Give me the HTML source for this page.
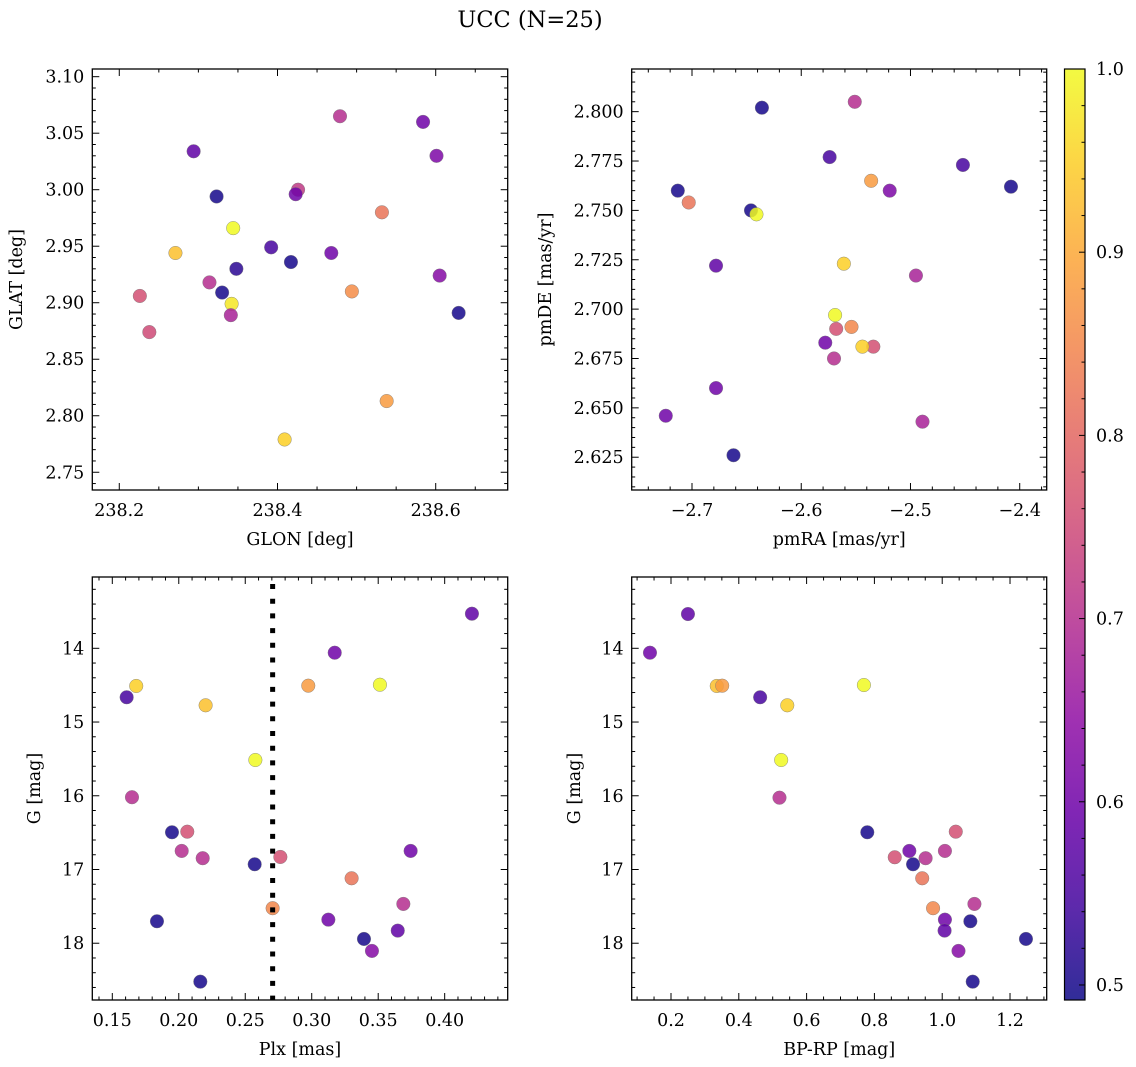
<!DOCTYPE html>
<html><head><meta charset="utf-8">
<style>
html,body{margin:0;padding:0;background:#fff;}
svg{display:block;font-family:"DejaVu Serif","Liberation Serif",serif;}
</style></head>
<body>
<svg id="fig" width="1136" height="1067" viewBox="0 0 1136 1067" xmlns="http://www.w3.org/2000/svg">
<rect width="1136" height="1067" fill="#fff"/>
<text x="530" y="27" font-size="22.5" text-anchor="middle">UCC (N=25)</text>
</svg>
<script>
// ---- data ----
const glon = [238.479,238.584,238.601,238.294,238.426,238.423,238.323,238.532,238.344,238.271,238.392,238.417,238.468,238.348,238.314,238.605,238.226,238.330,238.494,238.342,238.341,238.629,238.238,238.538,238.409];
const glat = [3.065,3.060,3.030,3.034,3.000,2.996,2.994,2.980,2.966,2.944,2.949,2.936,2.944,2.930,2.918,2.924,2.906,2.909,2.910,2.899,2.889,2.891,2.874,2.813,2.779];
const probA = [0.70,0.60,0.62,0.58,0.72,0.60,0.50,0.82,1.0,0.93,0.55,0.50,0.60,0.52,0.70,0.63,0.76,0.50,0.86,0.98,0.68,0.50,0.75,0.88,0.95];

const pmra = [-2.636,-2.551,-2.574,-2.452,-2.408,-2.713,-2.536,-2.519,-2.703,-2.646,-2.641,-2.678,-2.561,-2.495,-2.569,-2.568,-2.554,-2.578,-2.534,-2.544,-2.570,-2.678,-2.724,-2.489,-2.662];
const pmde = [2.802,2.805,2.777,2.773,2.762,2.760,2.765,2.760,2.754,2.750,2.748,2.722,2.723,2.717,2.697,2.690,2.691,2.683,2.681,2.681,2.675,2.660,2.646,2.643,2.626];
const probB = [0.50,0.70,0.55,0.55,0.50,0.50,0.88,0.62,0.82,0.50,1.0,0.58,0.95,0.68,1.0,0.76,0.85,0.60,0.76,0.95,0.70,0.60,0.60,0.68,0.50];

const plx = [0.4205,0.3173,0.168,0.1608,0.2202,0.2974,0.3513,0.2576,0.1648,0.1949,0.2064,0.2022,0.218,0.2571,0.2764,0.3744,0.330,0.2706,0.3689,0.1836,0.3125,0.3647,0.3393,0.3453,0.2162];
const gmagC = [13.531,14.060,14.511,14.664,14.773,14.507,14.494,15.515,16.020,16.495,16.487,16.748,16.847,16.929,16.830,16.748,17.119,17.525,17.467,17.702,17.680,17.829,17.942,18.104,18.521];
const probC = [0.58,0.60,0.95,0.55,0.93,0.88,1.0,1.0,0.70,0.50,0.76,0.70,0.70,0.50,0.76,0.60,0.82,0.85,0.70,0.50,0.60,0.58,0.50,0.63,0.50];
const plxLine = 0.2706;

const bprp = [0.250,0.138,0.335,0.351,0.463,0.543,0.769,0.525,0.520,0.779,1.040,0.903,1.008,0.860,0.951,0.914,0.941,1.095,0.973,1.008,1.083,1.007,1.247,1.048,1.090];
const gmagD = [13.535,14.060,14.511,14.507,14.664,14.773,14.498,15.515,16.026,16.495,16.487,16.748,16.748,16.834,16.847,16.929,17.119,17.467,17.525,17.680,17.702,17.829,17.942,18.104,18.521];
const probD = [0.58,0.60,0.93,0.88,0.55,0.95,1.0,1.0,0.70,0.50,0.76,0.60,0.70,0.76,0.70,0.50,0.82,0.70,0.85,0.60,0.50,0.58,0.50,0.63,0.50];

const ticksGlon = [238.2,238.4,238.6];
const ticksGlat = [3.10,3.05,3.00,2.95,2.90,2.85,2.80,2.75];
const ticksPmra = [-2.7,-2.6,-2.5,-2.4];
const ticksPmde = [2.800,2.775,2.750,2.725,2.700,2.675,2.650,2.625];
const ticksPlx = [0.15,0.20,0.25,0.30,0.35,0.40];
const ticksG = [14,15,16,17,18];
const ticksBprp = [0.2,0.4,0.6,0.8,1.0,1.2];
const ticksCbar = [0.5,0.6,0.7,0.8,0.9,1.0];

// ---- helpers ----
const NS = "http://www.w3.org/2000/svg";
const svg = document.getElementById('fig');
const FS = 17.5;
function mk(tag, attrs, parent){
  const e = document.createElementNS(NS, tag);
  for (const k in attrs) e.setAttribute(k, attrs[k]);
  (parent||svg).appendChild(e);
  return e;
}
const stops = [[13,8,135],[65,4,157],[106,0,168],[143,13,164],[177,42,144],[204,71,120],[225,100,98],[242,132,75],[252,166,54],[252,206,37],[240,249,33]];
const VMIN = 0.4918, VMAX = 1.0;
function plasmaT(t){
  t = Math.max(0, Math.min(1, t));
  const p = t*10, i = Math.min(9, Math.floor(p)), f = p - i;
  const a = stops[i], b = stops[i+1];
  return 'rgb(' + [0,1,2].map(k => Math.round(a[k] + (b[k]-a[k])*f)).join(',') + ')';
}
function plasma(v){ return plasmaT((v - VMIN)/(VMAX - VMIN)); }
function fmt(v, d){ return (v < 0 ? '\u2212' : '') + Math.abs(v).toFixed(d); }

function panel(cfg){
  const {L,R,T,B,x0,x1,y0,y1,name} = cfg;
  const sx = v => L + (v - x0)/(x1 - x0)*(R - L);
  const sy = v => B - (v - y0)/(y1 - y0)*(B - T);
  const g = mk('g', {});
  
  
  const tk = mk('g', {stroke:'#000','stroke-width':1}, g);
  
  
  const xm = cfg.xMinor, ym = cfg.yMinor;
  const xlo = Math.min(x0,x1), xhi = Math.max(x0,x1), ylo = Math.min(y0,y1), yhi = Math.max(y0,y1);
  for (let v = Math.ceil(xlo/xm - 1e-6)*xm; v <= xhi + 1e-9; v += xm){
    const major = cfg.xTicks.some(t => Math.abs(t - v) < xm/10);
    const len = major ? 7 : 3.5, x = sx(v);
    mk('line', {x1:x, x2:x, y1:B, y2:B-len}, tk);
    mk('line', {x1:x, x2:x, y1:T, y2:T+len}, tk);
  }
  for (let v = Math.ceil(ylo/ym - 1e-6)*ym; v <= yhi + 1e-9; v += ym){
    const major = cfg.yTicks.some(t => Math.abs(t - v) < ym/10);
    const len = major ? 7 : 3.5, y = sy(v);
    mk('line', {x1:L, x2:L+len, y1:y, y2:y}, tk);
    mk('line', {x1:R, x2:R-len, y1:y, y2:y}, tk);
  }
  cfg.xTicks.forEach(v => {
    const t = mk('text', {x:sx(v), y:B+26, 'font-size':FS, 'text-anchor':'middle'}, g);
    
    
    t.textContent = fmt(v, cfg.xDec);
  });
  cfg.yTicks.forEach(v => {
    const t = mk('text', {x:L-8, y:sy(v)+6, 'font-size':FS, 'text-anchor':'end'}, g);
    
    
    t.textContent = fmt(v, cfg.yDec);
  });
  const xl = mk('text', {x:(L+R)/2, y:B+55, 'font-size':FS, 'text-anchor':'middle'}, g);
  
  
  xl.textContent = cfg.xLabel;
  const yx = cfg.yLabelX, yy = (T+B)/2;
  const yl = mk('text', {x:yx, y:yy, 'font-size':FS, 'text-anchor':'middle', transform:`rotate(-90 ${yx} ${yy})`}, g);
  
  
  yl.textContent = cfg.yLabel;
  cfg.xs.forEach((xv, i) => {
    const c = mk('circle', {cx:sx(xv), cy:sy(cfg.ys[i]), r:6.8, fill:plasma(cfg.cs[i]), 'fill-opacity':0.85, stroke:'#777', 'stroke-width':0.4}, g);
    
    
  });
  if (cfg.vline !== undefined){
    const l = mk('line', {x1:sx(cfg.vline), x2:sx(cfg.vline), y1:T, y2:B, stroke:'#000', 'stroke-width':5, 'stroke-dasharray':'5 9.7', 'stroke-dashoffset':-7}, g);
    
    
  }
  const fr = mk('rect', {x:L, y:T, width:R-L, height:B-T, fill:'none', stroke:'#000', 'stroke-width':1.3}, g);
  
  
}

panel({name:'glon-glat-panel', L:92.3, R:507.7, T:69, B:490, x0:238.1659, x1:238.691, y0:2.7343, y1:3.1068,
  xTicks:ticksGlon, yTicks:ticksGlat, xMinor:0.05, yMinor:0.01, xDec:1, yDec:2,
  xLabel:'GLON [deg]', yLabel:'GLAT [deg]', yLabelX:22, xs:glon, ys:glat, cs:probA});
panel({name:'pm-panel', L:631.7, R:1046.7, T:69, B:490, x0:-2.7552, x1:-2.3753, y0:2.6084, y1:2.8216,
  xTicks:ticksPmra, yTicks:ticksPmde, xMinor:0.02, yMinor:0.005, xDec:1, yDec:3,
  xLabel:'pmRA [mas/yr]', yLabel:'pmDE [mas/yr]', yLabelX:551, xs:pmra, ys:pmde, cs:probB});
panel({name:'plx-g-panel', L:92.3, R:507.7, T:577, B:1000, x0:0.13496, x1:0.4474, y0:18.77, y1:13.033,
  xTicks:ticksPlx, yTicks:ticksG, xMinor:0.01, yMinor:0.2, xDec:2, yDec:0,
  xLabel:'Plx [mas]', yLabel:'G [mag]', yLabelX:40, xs:plx, ys:gmagC, cs:probC, vline:plxLine});
panel({name:'cmd-panel', L:631.7, R:1046.7, T:577, B:1000, x0:0.0841, x1:1.3082, y0:18.77, y1:13.033,
  xTicks:ticksBprp, yTicks:ticksG, xMinor:0.05, yMinor:0.2, xDec:1, yDec:0,
  xLabel:'BP-RP [mag]', yLabel:'G [mag]', yLabelX:580, xs:bprp, ys:gmagD, cs:probD});

// ---- colorbar ----
(function(){
  const L = 1064.5, R = 1085, T = 69, B = 1000;
  const cb = mk('g', {});
  
  
  const defs = mk('defs', {});
  const grad = mk('linearGradient', {id:'cbgrad', x1:0, y1:1, x2:0, y2:0}, defs);
  for (let i = 0; i <= 20; i++){
    mk('stop', {offset:(i/20), 'stop-color':plasmaT(i/20)}, grad);
  }
  mk('rect', {x:L, y:T, width:R-L, height:B-T, fill:'url(#cbgrad)', 'fill-opacity':0.85}, cb);
  const sy = v => B - (v - VMIN)/(VMAX - VMIN)*(B - T);
  for (let v = 0.5; v <= 1.0001; v += 0.02){
    const major = ticksCbar.some(t => Math.abs(t - v) < 0.002);
    mk('line', {x1:R, x2:R-(major?6:3.5), y1:sy(v), y2:sy(v), stroke:'#000', 'stroke-width':1}, cb);
  }
  ticksCbar.forEach(v => {
    const t = mk('text', {x:R+11, y:sy(v)+6, 'font-size':FS}, cb);
    
    
    t.textContent = v.toFixed(1);
  });
  mk('rect', {x:L, y:T, width:R-L, height:B-T, fill:'none', stroke:'#000', 'stroke-width':1.2}, cb);
})();
</script>
</body></html>
